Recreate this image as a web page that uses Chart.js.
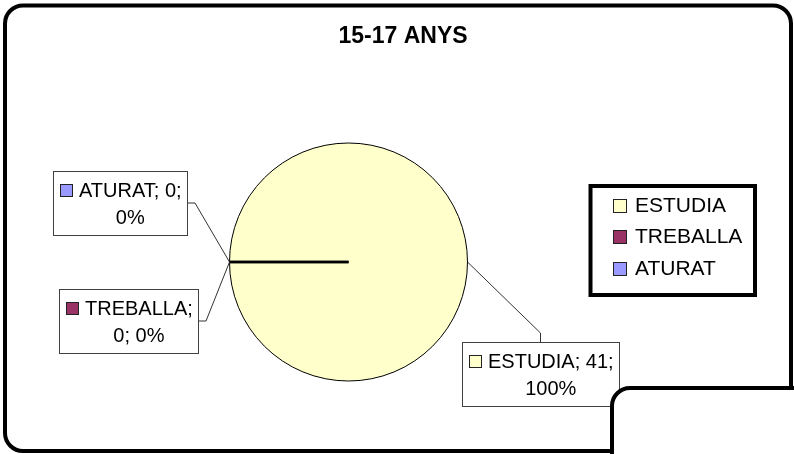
<!DOCTYPE html>
<html>
<head>
<meta charset="utf-8">
<script src="https://cdn.jsdelivr.net/npm/chart.js@4.4.1/dist/chart.umd.min.js"></script>
<style>
  html, body { margin: 0; padding: 0; background: #fff; }
  #wrap { width: 794px; height: 454px; }
</style>
</head>
<body>
<div id="wrap"><canvas id="pieChart" width="794" height="454"></canvas></div>
<script>
const chartTitle = '15-17 ANYS';
const categories = ['ESTUDIA', 'TREBALLA', 'ATURAT'];
const counts = [41, 0, 0];
const sliceColors = ['#FFFFCC', '#993366', '#9999FF'];

const FONT = "'Liberation Sans', Arial, sans-serif";

// where the data label boxes sit (same order as categories)
const labelBoxes = [
    { x: 462, y: 342, firstLine: 2, side: 'top' },
    { x: 59, y: 289, firstLine: 1, side: 'right' },
    { x: 53, y: 171, firstLine: 2, side: 'right' }
];

function roundRect(ctx, x, y, w, h, r) {
    ctx.beginPath();
    ctx.moveTo(x + r, y);
    ctx.lineTo(x + w - r, y);
    ctx.arcTo(x + w, y, x + w, y + r, r);
    ctx.lineTo(x + w, y + h - r);
    ctx.arcTo(x + w, y + h, x + w - r, y + h, r);
    ctx.lineTo(x + r, y + h);
    ctx.arcTo(x, y + h, x, y + h - r, r);
    ctx.lineTo(x, y + r);
    ctx.arcTo(x, y, x + r, y, r);
    ctx.closePath();
}

const framePlugin = {
    id: 'frame',
    beforeDraw(chart) {
        const ctx = chart.ctx;
        ctx.save();
        roundRect(ctx, 5, 5.5, 786, 445.5, 18);
        ctx.fillStyle = '#fff';
        ctx.fill();
        ctx.lineWidth = 4;
        ctx.strokeStyle = '#000';
        ctx.stroke();

        // title
        ctx.font = 'bold 23px ' + FONT;
        ctx.fillStyle = '#000';
        ctx.textAlign = 'center';
        ctx.textBaseline = 'alphabetic';
        ctx.fillText(chartTitle, 403, 43);
        ctx.restore();
    },
    afterDraw(chart) {
        // frame of the next chart overlapping the bottom-right corner
        const ctx = chart.ctx;
        ctx.save();
        roundRect(ctx, 612, 388, 260, 140, 18);
        ctx.fillStyle = '#fff';
        ctx.fill();
        ctx.lineWidth = 4;
        ctx.strokeStyle = '#000';
        ctx.stroke();
        ctx.restore();
    }
};

const calloutPlugin = {
    id: 'callouts',
    afterDatasetsDraw(chart) {
        const ctx = chart.ctx;
        const meta = chart.getDatasetMeta(0);
        const values = chart.data.datasets[0].data;
        const total = values.reduce((a, b) => a + b, 0);
        ctx.save();

        // zero slices still show their edge as a radius line
        meta.data.forEach((arc, i) => {
            if (values[i] !== 0) return;
            ctx.beginPath();
            ctx.moveTo(arc.x, arc.y);
            ctx.lineTo(arc.x + Math.cos(arc.startAngle) * arc.outerRadius,
                       arc.y + Math.sin(arc.startAngle) * arc.outerRadius);
            ctx.lineWidth = 2.5;
            ctx.strokeStyle = '#000';
            ctx.stroke();
        });

        ctx.font = '20px ' + FONT;
        ctx.textBaseline = 'middle';
        ctx.textAlign = 'center';

        meta.data.forEach((arc, i) => {
            const box = labelBoxes[i];
            const pct = total ? Math.round(values[i] / total * 100) : 0;
            const words = `${chart.data.labels[i]}; ${values[i]}; ${pct}%`.split(' ');
            const lines = [words.slice(0, box.firstLine).join(' '), words.slice(box.firstLine).join(' ')];
            const textW = Math.max(...lines.map(l => ctx.measureText(l).width));
            const w = Math.round(26 + textW + 5);
            const h = 64;

            // leader line
            const mid = (arc.startAngle + arc.endAngle) / 2;
            const ax = arc.x + Math.cos(mid) * arc.outerRadius;
            const ay = arc.y + Math.sin(mid) * arc.outerRadius;
            ctx.beginPath();
            if (box.side === 'top') {
                const bx = box.x + w / 2;
                ctx.moveTo(bx, box.y);
                ctx.lineTo(bx, box.y - 9);
            } else {
                const by = box.y + h / 2;
                ctx.moveTo(box.x + w, by);
                ctx.lineTo(box.x + w + 8, by);
            }
            ctx.lineTo(ax, ay);
            ctx.lineWidth = 1;
            ctx.strokeStyle = '#333';
            ctx.stroke();

            // box
            ctx.fillStyle = '#fff';
            ctx.fillRect(box.x + 0.5, box.y + 0.5, w, h);
            ctx.strokeStyle = '#404040';
            ctx.strokeRect(box.x + 0.5, box.y + 0.5, w, h);

            // legend key
            ctx.fillStyle = sliceColors[i];
            ctx.fillRect(box.x + 7.5, box.y + 13.5, 12, 12);
            ctx.strokeStyle = '#222';
            ctx.strokeRect(box.x + 7.5, box.y + 13.5, 12, 12);

            ctx.fillStyle = '#000';
            const cx = box.x + 26 + textW / 2;
            ctx.fillText(lines[0], cx, box.y + 20);
            ctx.fillText(lines[1], cx, box.y + 47);
        });
        ctx.restore();
    },
    afterDraw(chart) {
        // legend with its heavy border
        const ctx = chart.ctx;
        ctx.save();
        ctx.fillStyle = '#fff';
        ctx.fillRect(590.5, 186, 164.5, 109);
        ctx.lineWidth = 4;
        ctx.strokeStyle = '#000';
        ctx.strokeRect(590.5, 186, 164.5, 109);
        ctx.font = '21px ' + FONT;
        ctx.textBaseline = 'middle';
        ctx.textAlign = 'left';
        chart.data.labels.forEach((label, i) => {
            const cy = 205 + i * 31.5;
            ctx.fillStyle = sliceColors[i];
            ctx.fillRect(613.5, Math.round(cy - 6.5) + 0.5, 13, 13);
            ctx.lineWidth = 1;
            ctx.strokeStyle = '#222';
            ctx.strokeRect(613.5, Math.round(cy - 6.5) + 0.5, 13, 13);
            ctx.fillStyle = '#000';
            ctx.fillText(label, 635, cy + 1);
        });
        ctx.restore();
    }
};

const ctx = document.getElementById('pieChart').getContext('2d');
const pieChart = new Chart(ctx, {
    type: 'pie',
    data: {
        labels: categories,
        datasets: [{
            data: counts,
            backgroundColor: sliceColors,
            borderColor: '#000',
            borderWidth: 1,
            hoverBorderWidth: 1,
            hoverOffset: 0
        }]
    },
    options: {
        responsive: false,
        animation: false,
        rotation: -90,
        layout: {
            padding: { left: 229, right: 326, top: 142.5, bottom: 72.5 }
        },
        plugins: {
            legend: { display: false },
            tooltip: { enabled: false },
            title: { display: false }
        }
    },
    plugins: [framePlugin, calloutPlugin]
});
</script>
</body>
</html>
